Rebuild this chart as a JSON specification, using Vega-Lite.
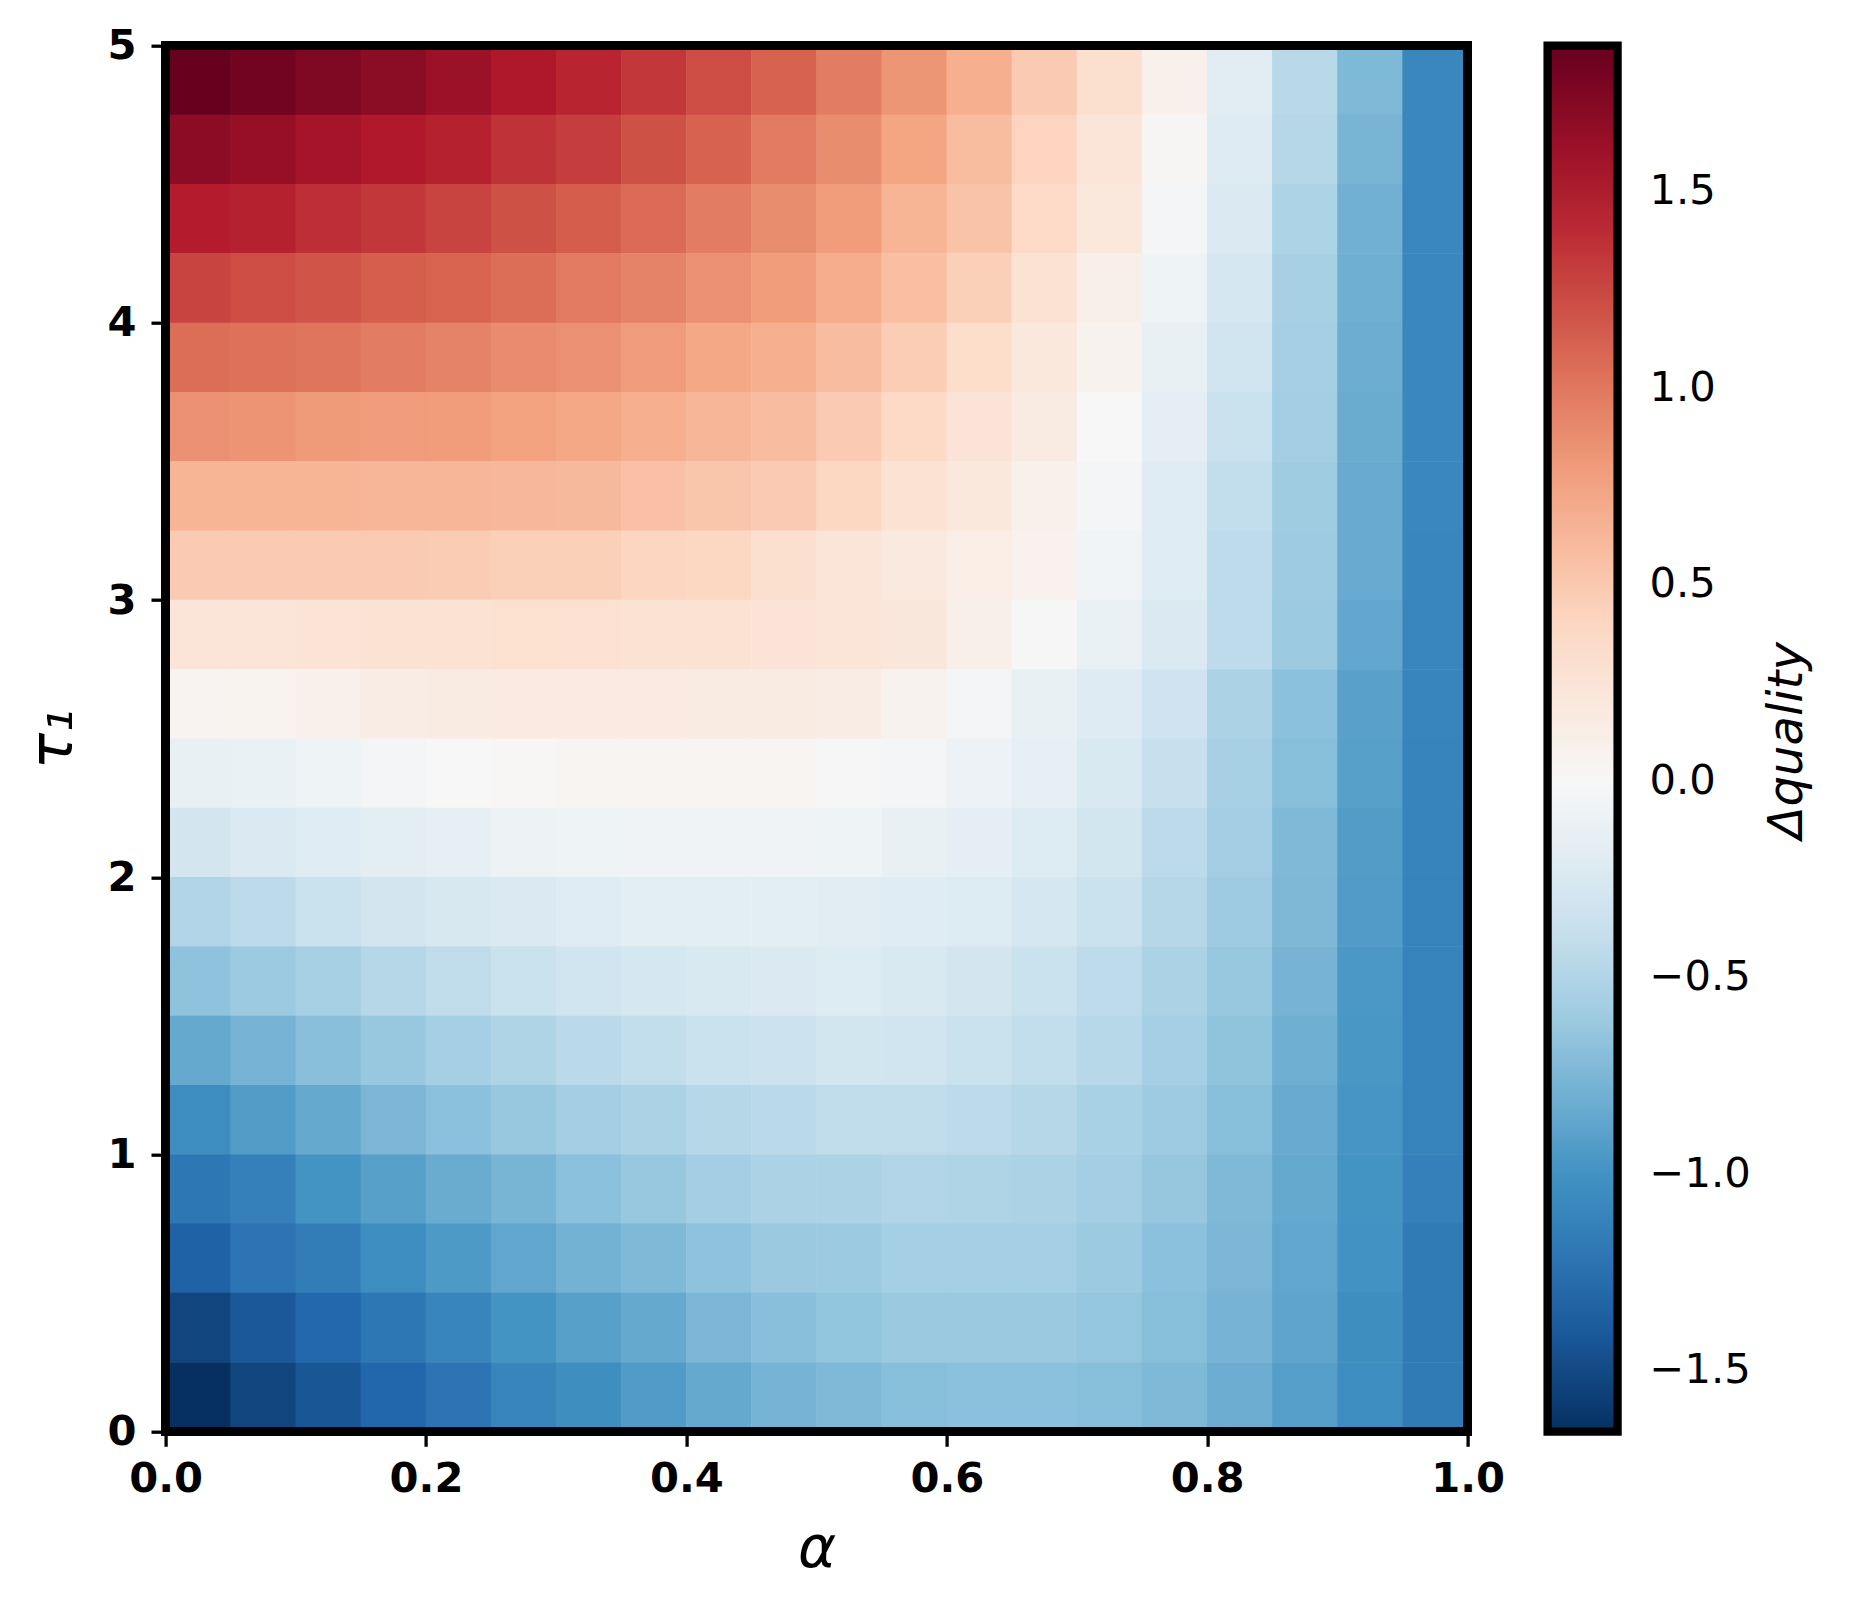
{
  "$schema": "https://vega.github.io/schema/vega-lite/v6.json",
  "width": 1302,
  "height": 1386,
  "autosize": {"type": "none"},
  "padding": {"left": 165.6, "top": 45.7, "right": 395.4, "bottom": 178.3},
  "background": "white",
  "config": {"view": {"stroke": null}},
  "data": {"values": [
{"alpha":0.025,"tau1":4.875,"dq":1.87},{"alpha":0.075,"tau1":4.875,"dq":1.81},{"alpha":0.125,"tau1":4.875,"dq":1.75},{"alpha":0.175,"tau1":4.875,"dq":1.69},{"alpha":0.225,"tau1":4.875,"dq":1.61},{"alpha":0.275,"tau1":4.875,"dq":1.51},{"alpha":0.325,"tau1":4.875,"dq":1.43},{"alpha":0.375,"tau1":4.875,"dq":1.33},{"alpha":0.425,"tau1":4.875,"dq":1.22},{"alpha":0.475,"tau1":4.875,"dq":1.11},{"alpha":0.525,"tau1":4.875,"dq":0.97},{"alpha":0.575,"tau1":4.875,"dq":0.83},{"alpha":0.625,"tau1":4.875,"dq":0.67},{"alpha":0.675,"tau1":4.875,"dq":0.49},{"alpha":0.725,"tau1":4.875,"dq":0.31},{"alpha":0.775,"tau1":4.875,"dq":0.09},{"alpha":0.825,"tau1":4.875,"dq":-0.18},{"alpha":0.875,"tau1":4.875,"dq":-0.46},{"alpha":0.925,"tau1":4.875,"dq":-0.74},{"alpha":0.975,"tau1":4.875,"dq":-1.08},
{"alpha":0.025,"tau1":4.625,"dq":1.68},{"alpha":0.075,"tau1":4.625,"dq":1.63},{"alpha":0.125,"tau1":4.625,"dq":1.56},{"alpha":0.175,"tau1":4.625,"dq":1.50},{"alpha":0.225,"tau1":4.625,"dq":1.45},{"alpha":0.275,"tau1":4.625,"dq":1.36},{"alpha":0.325,"tau1":4.625,"dq":1.30},{"alpha":0.375,"tau1":4.625,"dq":1.20},{"alpha":0.425,"tau1":4.625,"dq":1.11},{"alpha":0.475,"tau1":4.625,"dq":0.98},{"alpha":0.525,"tau1":4.625,"dq":0.88},{"alpha":0.575,"tau1":4.625,"dq":0.75},{"alpha":0.625,"tau1":4.625,"dq":0.59},{"alpha":0.675,"tau1":4.625,"dq":0.42},{"alpha":0.725,"tau1":4.625,"dq":0.24},{"alpha":0.775,"tau1":4.625,"dq":0.03},{"alpha":0.825,"tau1":4.625,"dq":-0.22},{"alpha":0.875,"tau1":4.625,"dq":-0.48},{"alpha":0.925,"tau1":4.625,"dq":-0.77},{"alpha":0.975,"tau1":4.625,"dq":-1.08},
{"alpha":0.025,"tau1":4.375,"dq":1.48},{"alpha":0.075,"tau1":4.375,"dq":1.45},{"alpha":0.125,"tau1":4.375,"dq":1.38},{"alpha":0.175,"tau1":4.375,"dq":1.33},{"alpha":0.225,"tau1":4.375,"dq":1.27},{"alpha":0.275,"tau1":4.375,"dq":1.20},{"alpha":0.325,"tau1":4.375,"dq":1.14},{"alpha":0.375,"tau1":4.375,"dq":1.06},{"alpha":0.425,"tau1":4.375,"dq":0.97},{"alpha":0.475,"tau1":4.375,"dq":0.88},{"alpha":0.525,"tau1":4.375,"dq":0.79},{"alpha":0.575,"tau1":4.375,"dq":0.64},{"alpha":0.625,"tau1":4.375,"dq":0.54},{"alpha":0.675,"tau1":4.375,"dq":0.37},{"alpha":0.725,"tau1":4.375,"dq":0.20},{"alpha":0.775,"tau1":4.375,"dq":-0.03},{"alpha":0.825,"tau1":4.375,"dq":-0.25},{"alpha":0.875,"tau1":4.375,"dq":-0.52},{"alpha":0.925,"tau1":4.375,"dq":-0.80},{"alpha":0.975,"tau1":4.375,"dq":-1.08},
{"alpha":0.025,"tau1":4.125,"dq":1.27},{"alpha":0.075,"tau1":4.125,"dq":1.22},{"alpha":0.125,"tau1":4.125,"dq":1.18},{"alpha":0.175,"tau1":4.125,"dq":1.13},{"alpha":0.225,"tau1":4.125,"dq":1.10},{"alpha":0.275,"tau1":4.125,"dq":1.05},{"alpha":0.325,"tau1":4.125,"dq":0.98},{"alpha":0.375,"tau1":4.125,"dq":0.93},{"alpha":0.425,"tau1":4.125,"dq":0.86},{"alpha":0.475,"tau1":4.125,"dq":0.79},{"alpha":0.525,"tau1":4.125,"dq":0.69},{"alpha":0.575,"tau1":4.125,"dq":0.57},{"alpha":0.625,"tau1":4.125,"dq":0.45},{"alpha":0.675,"tau1":4.125,"dq":0.27},{"alpha":0.725,"tau1":4.125,"dq":0.11},{"alpha":0.775,"tau1":4.125,"dq":-0.08},{"alpha":0.825,"tau1":4.125,"dq":-0.30},{"alpha":0.875,"tau1":4.125,"dq":-0.55},{"alpha":0.925,"tau1":4.125,"dq":-0.81},{"alpha":0.975,"tau1":4.125,"dq":-1.08},
{"alpha":0.025,"tau1":3.875,"dq":1.05},{"alpha":0.075,"tau1":3.875,"dq":1.03},{"alpha":0.125,"tau1":3.875,"dq":1.01},{"alpha":0.175,"tau1":3.875,"dq":0.97},{"alpha":0.225,"tau1":3.875,"dq":0.93},{"alpha":0.275,"tau1":3.875,"dq":0.89},{"alpha":0.325,"tau1":3.875,"dq":0.86},{"alpha":0.375,"tau1":3.875,"dq":0.80},{"alpha":0.425,"tau1":3.875,"dq":0.73},{"alpha":0.475,"tau1":3.875,"dq":0.67},{"alpha":0.525,"tau1":3.875,"dq":0.58},{"alpha":0.575,"tau1":3.875,"dq":0.47},{"alpha":0.625,"tau1":3.875,"dq":0.34},{"alpha":0.675,"tau1":3.875,"dq":0.20},{"alpha":0.725,"tau1":3.875,"dq":0.07},{"alpha":0.775,"tau1":3.875,"dq":-0.13},{"alpha":0.825,"tau1":3.875,"dq":-0.33},{"alpha":0.875,"tau1":3.875,"dq":-0.56},{"alpha":0.925,"tau1":3.875,"dq":-0.82},{"alpha":0.975,"tau1":3.875,"dq":-1.08},
{"alpha":0.025,"tau1":3.625,"dq":0.86},{"alpha":0.075,"tau1":3.625,"dq":0.84},{"alpha":0.125,"tau1":3.625,"dq":0.81},{"alpha":0.175,"tau1":3.625,"dq":0.80},{"alpha":0.225,"tau1":3.625,"dq":0.79},{"alpha":0.275,"tau1":3.625,"dq":0.76},{"alpha":0.325,"tau1":3.625,"dq":0.73},{"alpha":0.375,"tau1":3.625,"dq":0.68},{"alpha":0.425,"tau1":3.625,"dq":0.63},{"alpha":0.475,"tau1":3.625,"dq":0.58},{"alpha":0.525,"tau1":3.625,"dq":0.49},{"alpha":0.575,"tau1":3.625,"dq":0.38},{"alpha":0.625,"tau1":3.625,"dq":0.25},{"alpha":0.675,"tau1":3.625,"dq":0.16},{"alpha":0.725,"tau1":3.625,"dq":0.00},{"alpha":0.775,"tau1":3.625,"dq":-0.16},{"alpha":0.825,"tau1":3.625,"dq":-0.37},{"alpha":0.875,"tau1":3.625,"dq":-0.58},{"alpha":0.925,"tau1":3.625,"dq":-0.83},{"alpha":0.975,"tau1":3.625,"dq":-1.08},
{"alpha":0.025,"tau1":3.375,"dq":0.64},{"alpha":0.075,"tau1":3.375,"dq":0.64},{"alpha":0.125,"tau1":3.375,"dq":0.64},{"alpha":0.175,"tau1":3.375,"dq":0.63},{"alpha":0.225,"tau1":3.375,"dq":0.63},{"alpha":0.275,"tau1":3.375,"dq":0.62},{"alpha":0.325,"tau1":3.375,"dq":0.61},{"alpha":0.375,"tau1":3.375,"dq":0.56},{"alpha":0.425,"tau1":3.375,"dq":0.52},{"alpha":0.475,"tau1":3.375,"dq":0.49},{"alpha":0.525,"tau1":3.375,"dq":0.40},{"alpha":0.575,"tau1":3.375,"dq":0.28},{"alpha":0.625,"tau1":3.375,"dq":0.20},{"alpha":0.675,"tau1":3.375,"dq":0.09},{"alpha":0.725,"tau1":3.375,"dq":-0.03},{"alpha":0.775,"tau1":3.375,"dq":-0.21},{"alpha":0.825,"tau1":3.375,"dq":-0.41},{"alpha":0.875,"tau1":3.375,"dq":-0.59},{"alpha":0.925,"tau1":3.375,"dq":-0.84},{"alpha":0.975,"tau1":3.375,"dq":-1.08},
{"alpha":0.025,"tau1":3.125,"dq":0.49},{"alpha":0.075,"tau1":3.125,"dq":0.49},{"alpha":0.125,"tau1":3.125,"dq":0.49},{"alpha":0.175,"tau1":3.125,"dq":0.49},{"alpha":0.225,"tau1":3.125,"dq":0.48},{"alpha":0.275,"tau1":3.125,"dq":0.45},{"alpha":0.325,"tau1":3.125,"dq":0.45},{"alpha":0.375,"tau1":3.125,"dq":0.41},{"alpha":0.425,"tau1":3.125,"dq":0.40},{"alpha":0.475,"tau1":3.125,"dq":0.31},{"alpha":0.525,"tau1":3.125,"dq":0.24},{"alpha":0.575,"tau1":3.125,"dq":0.19},{"alpha":0.625,"tau1":3.125,"dq":0.14},{"alpha":0.675,"tau1":3.125,"dq":0.08},{"alpha":0.725,"tau1":3.125,"dq":-0.05},{"alpha":0.775,"tau1":3.125,"dq":-0.21},{"alpha":0.825,"tau1":3.125,"dq":-0.43},{"alpha":0.875,"tau1":3.125,"dq":-0.60},{"alpha":0.925,"tau1":3.125,"dq":-0.84},{"alpha":0.975,"tau1":3.125,"dq":-1.09},
{"alpha":0.025,"tau1":2.875,"dq":0.24},{"alpha":0.075,"tau1":2.875,"dq":0.24},{"alpha":0.125,"tau1":2.875,"dq":0.26},{"alpha":0.175,"tau1":2.875,"dq":0.27},{"alpha":0.225,"tau1":2.875,"dq":0.28},{"alpha":0.275,"tau1":2.875,"dq":0.30},{"alpha":0.325,"tau1":2.875,"dq":0.29},{"alpha":0.375,"tau1":2.875,"dq":0.27},{"alpha":0.425,"tau1":2.875,"dq":0.27},{"alpha":0.475,"tau1":2.875,"dq":0.25},{"alpha":0.525,"tau1":2.875,"dq":0.24},{"alpha":0.575,"tau1":2.875,"dq":0.21},{"alpha":0.625,"tau1":2.875,"dq":0.11},{"alpha":0.675,"tau1":2.875,"dq":-0.01},{"alpha":0.725,"tau1":2.875,"dq":-0.11},{"alpha":0.775,"tau1":2.875,"dq":-0.25},{"alpha":0.825,"tau1":2.875,"dq":-0.43},{"alpha":0.875,"tau1":2.875,"dq":-0.61},{"alpha":0.925,"tau1":2.875,"dq":-0.86},{"alpha":0.975,"tau1":2.875,"dq":-1.09},
{"alpha":0.025,"tau1":2.625,"dq":0.05},{"alpha":0.075,"tau1":2.625,"dq":0.06},{"alpha":0.125,"tau1":2.625,"dq":0.09},{"alpha":0.175,"tau1":2.625,"dq":0.15},{"alpha":0.225,"tau1":2.625,"dq":0.16},{"alpha":0.275,"tau1":2.625,"dq":0.17},{"alpha":0.325,"tau1":2.625,"dq":0.17},{"alpha":0.375,"tau1":2.625,"dq":0.17},{"alpha":0.425,"tau1":2.625,"dq":0.16},{"alpha":0.475,"tau1":2.625,"dq":0.16},{"alpha":0.525,"tau1":2.625,"dq":0.15},{"alpha":0.575,"tau1":2.625,"dq":0.07},{"alpha":0.625,"tau1":2.625,"dq":-0.03},{"alpha":0.675,"tau1":2.625,"dq":-0.13},{"alpha":0.725,"tau1":2.625,"dq":-0.22},{"alpha":0.775,"tau1":2.625,"dq":-0.34},{"alpha":0.825,"tau1":2.625,"dq":-0.53},{"alpha":0.875,"tau1":2.625,"dq":-0.69},{"alpha":0.925,"tau1":2.625,"dq":-0.90},{"alpha":0.975,"tau1":2.625,"dq":-1.10},
{"alpha":0.025,"tau1":2.375,"dq":-0.13},{"alpha":0.075,"tau1":2.375,"dq":-0.11},{"alpha":0.125,"tau1":2.375,"dq":-0.08},{"alpha":0.175,"tau1":2.375,"dq":-0.03},{"alpha":0.225,"tau1":2.375,"dq":0.00},{"alpha":0.275,"tau1":2.375,"dq":0.02},{"alpha":0.325,"tau1":2.375,"dq":0.04},{"alpha":0.375,"tau1":2.375,"dq":0.04},{"alpha":0.425,"tau1":2.375,"dq":0.04},{"alpha":0.475,"tau1":2.375,"dq":0.04},{"alpha":0.525,"tau1":2.375,"dq":-0.01},{"alpha":0.575,"tau1":2.375,"dq":-0.03},{"alpha":0.625,"tau1":2.375,"dq":-0.10},{"alpha":0.675,"tau1":2.375,"dq":-0.15},{"alpha":0.725,"tau1":2.375,"dq":-0.26},{"alpha":0.775,"tau1":2.375,"dq":-0.38},{"alpha":0.825,"tau1":2.375,"dq":-0.55},{"alpha":0.875,"tau1":2.375,"dq":-0.71},{"alpha":0.925,"tau1":2.375,"dq":-0.91},{"alpha":0.975,"tau1":2.375,"dq":-1.11},
{"alpha":0.025,"tau1":2.125,"dq":-0.31},{"alpha":0.075,"tau1":2.125,"dq":-0.25},{"alpha":0.125,"tau1":2.125,"dq":-0.21},{"alpha":0.175,"tau1":2.125,"dq":-0.17},{"alpha":0.225,"tau1":2.125,"dq":-0.15},{"alpha":0.275,"tau1":2.125,"dq":-0.09},{"alpha":0.325,"tau1":2.125,"dq":-0.08},{"alpha":0.375,"tau1":2.125,"dq":-0.07},{"alpha":0.425,"tau1":2.125,"dq":-0.07},{"alpha":0.475,"tau1":2.125,"dq":-0.07},{"alpha":0.525,"tau1":2.125,"dq":-0.08},{"alpha":0.575,"tau1":2.125,"dq":-0.12},{"alpha":0.625,"tau1":2.125,"dq":-0.16},{"alpha":0.675,"tau1":2.125,"dq":-0.23},{"alpha":0.725,"tau1":2.125,"dq":-0.32},{"alpha":0.775,"tau1":2.125,"dq":-0.44},{"alpha":0.825,"tau1":2.125,"dq":-0.58},{"alpha":0.875,"tau1":2.125,"dq":-0.74},{"alpha":0.925,"tau1":2.125,"dq":-0.93},{"alpha":0.975,"tau1":2.125,"dq":-1.11},
{"alpha":0.025,"tau1":1.875,"dq":-0.50},{"alpha":0.075,"tau1":1.875,"dq":-0.44},{"alpha":0.125,"tau1":1.875,"dq":-0.37},{"alpha":0.175,"tau1":1.875,"dq":-0.31},{"alpha":0.225,"tau1":1.875,"dq":-0.28},{"alpha":0.275,"tau1":1.875,"dq":-0.25},{"alpha":0.325,"tau1":1.875,"dq":-0.21},{"alpha":0.375,"tau1":1.875,"dq":-0.17},{"alpha":0.425,"tau1":1.875,"dq":-0.17},{"alpha":0.475,"tau1":1.875,"dq":-0.17},{"alpha":0.525,"tau1":1.875,"dq":-0.18},{"alpha":0.575,"tau1":1.875,"dq":-0.21},{"alpha":0.625,"tau1":1.875,"dq":-0.23},{"alpha":0.675,"tau1":1.875,"dq":-0.30},{"alpha":0.725,"tau1":1.875,"dq":-0.37},{"alpha":0.775,"tau1":1.875,"dq":-0.48},{"alpha":0.825,"tau1":1.875,"dq":-0.60},{"alpha":0.875,"tau1":1.875,"dq":-0.75},{"alpha":0.925,"tau1":1.875,"dq":-0.94},{"alpha":0.975,"tau1":1.875,"dq":-1.12},
{"alpha":0.025,"tau1":1.625,"dq":-0.68},{"alpha":0.075,"tau1":1.625,"dq":-0.61},{"alpha":0.125,"tau1":1.625,"dq":-0.55},{"alpha":0.175,"tau1":1.625,"dq":-0.48},{"alpha":0.225,"tau1":1.625,"dq":-0.42},{"alpha":0.275,"tau1":1.625,"dq":-0.37},{"alpha":0.325,"tau1":1.625,"dq":-0.33},{"alpha":0.375,"tau1":1.625,"dq":-0.30},{"alpha":0.425,"tau1":1.625,"dq":-0.26},{"alpha":0.475,"tau1":1.625,"dq":-0.24},{"alpha":0.525,"tau1":1.625,"dq":-0.23},{"alpha":0.575,"tau1":1.625,"dq":-0.26},{"alpha":0.625,"tau1":1.625,"dq":-0.31},{"alpha":0.675,"tau1":1.625,"dq":-0.37},{"alpha":0.725,"tau1":1.625,"dq":-0.43},{"alpha":0.775,"tau1":1.625,"dq":-0.53},{"alpha":0.825,"tau1":1.625,"dq":-0.63},{"alpha":0.875,"tau1":1.625,"dq":-0.78},{"alpha":0.925,"tau1":1.625,"dq":-0.96},{"alpha":0.975,"tau1":1.625,"dq":-1.12},
{"alpha":0.025,"tau1":1.375,"dq":-0.85},{"alpha":0.075,"tau1":1.375,"dq":-0.78},{"alpha":0.125,"tau1":1.375,"dq":-0.70},{"alpha":0.175,"tau1":1.375,"dq":-0.63},{"alpha":0.225,"tau1":1.375,"dq":-0.56},{"alpha":0.275,"tau1":1.375,"dq":-0.51},{"alpha":0.325,"tau1":1.375,"dq":-0.45},{"alpha":0.375,"tau1":1.375,"dq":-0.41},{"alpha":0.425,"tau1":1.375,"dq":-0.37},{"alpha":0.475,"tau1":1.375,"dq":-0.36},{"alpha":0.525,"tau1":1.375,"dq":-0.32},{"alpha":0.575,"tau1":1.375,"dq":-0.33},{"alpha":0.625,"tau1":1.375,"dq":-0.37},{"alpha":0.675,"tau1":1.375,"dq":-0.41},{"alpha":0.725,"tau1":1.375,"dq":-0.47},{"alpha":0.775,"tau1":1.375,"dq":-0.56},{"alpha":0.825,"tau1":1.375,"dq":-0.67},{"alpha":0.875,"tau1":1.375,"dq":-0.81},{"alpha":0.925,"tau1":1.375,"dq":-0.97},{"alpha":0.975,"tau1":1.375,"dq":-1.12},
{"alpha":0.025,"tau1":1.125,"dq":-1.04},{"alpha":0.075,"tau1":1.125,"dq":-0.93},{"alpha":0.125,"tau1":1.125,"dq":-0.85},{"alpha":0.175,"tau1":1.125,"dq":-0.76},{"alpha":0.225,"tau1":1.125,"dq":-0.69},{"alpha":0.275,"tau1":1.125,"dq":-0.63},{"alpha":0.325,"tau1":1.125,"dq":-0.57},{"alpha":0.375,"tau1":1.125,"dq":-0.53},{"alpha":0.425,"tau1":1.125,"dq":-0.48},{"alpha":0.475,"tau1":1.125,"dq":-0.45},{"alpha":0.525,"tau1":1.125,"dq":-0.42},{"alpha":0.575,"tau1":1.125,"dq":-0.42},{"alpha":0.625,"tau1":1.125,"dq":-0.44},{"alpha":0.675,"tau1":1.125,"dq":-0.48},{"alpha":0.725,"tau1":1.125,"dq":-0.54},{"alpha":0.775,"tau1":1.125,"dq":-0.60},{"alpha":0.825,"tau1":1.125,"dq":-0.71},{"alpha":0.875,"tau1":1.125,"dq":-0.84},{"alpha":0.925,"tau1":1.125,"dq":-0.98},{"alpha":0.975,"tau1":1.125,"dq":-1.12},
{"alpha":0.025,"tau1":0.875,"dq":-1.20},{"alpha":0.075,"tau1":0.875,"dq":-1.13},{"alpha":0.125,"tau1":0.875,"dq":-0.99},{"alpha":0.175,"tau1":0.875,"dq":-0.91},{"alpha":0.225,"tau1":0.875,"dq":-0.83},{"alpha":0.275,"tau1":0.875,"dq":-0.77},{"alpha":0.325,"tau1":0.875,"dq":-0.69},{"alpha":0.375,"tau1":0.875,"dq":-0.63},{"alpha":0.425,"tau1":0.875,"dq":-0.57},{"alpha":0.475,"tau1":0.875,"dq":-0.53},{"alpha":0.525,"tau1":0.875,"dq":-0.53},{"alpha":0.575,"tau1":0.875,"dq":-0.50},{"alpha":0.625,"tau1":0.875,"dq":-0.51},{"alpha":0.675,"tau1":0.875,"dq":-0.53},{"alpha":0.725,"tau1":0.875,"dq":-0.57},{"alpha":0.775,"tau1":0.875,"dq":-0.64},{"alpha":0.825,"tau1":0.875,"dq":-0.74},{"alpha":0.875,"tau1":0.875,"dq":-0.85},{"alpha":0.925,"tau1":0.875,"dq":-0.99},{"alpha":0.975,"tau1":0.875,"dq":-1.13},
{"alpha":0.025,"tau1":0.625,"dq":-1.35},{"alpha":0.075,"tau1":0.625,"dq":-1.22},{"alpha":0.125,"tau1":0.625,"dq":-1.16},{"alpha":0.175,"tau1":0.625,"dq":-1.04},{"alpha":0.225,"tau1":0.625,"dq":-0.95},{"alpha":0.275,"tau1":0.625,"dq":-0.87},{"alpha":0.325,"tau1":0.625,"dq":-0.79},{"alpha":0.375,"tau1":0.625,"dq":-0.74},{"alpha":0.425,"tau1":0.625,"dq":-0.68},{"alpha":0.475,"tau1":0.625,"dq":-0.62},{"alpha":0.525,"tau1":0.625,"dq":-0.61},{"alpha":0.575,"tau1":0.625,"dq":-0.56},{"alpha":0.625,"tau1":0.625,"dq":-0.56},{"alpha":0.675,"tau1":0.625,"dq":-0.56},{"alpha":0.725,"tau1":0.625,"dq":-0.61},{"alpha":0.775,"tau1":0.625,"dq":-0.69},{"alpha":0.825,"tau1":0.625,"dq":-0.76},{"alpha":0.875,"tau1":0.625,"dq":-0.87},{"alpha":0.925,"tau1":0.625,"dq":-1.00},{"alpha":0.975,"tau1":0.625,"dq":-1.18},
{"alpha":0.025,"tau1":0.375,"dq":-1.53},{"alpha":0.075,"tau1":0.375,"dq":-1.41},{"alpha":0.125,"tau1":0.375,"dq":-1.31},{"alpha":0.175,"tau1":0.375,"dq":-1.20},{"alpha":0.225,"tau1":0.375,"dq":-1.10},{"alpha":0.275,"tau1":0.375,"dq":-0.99},{"alpha":0.325,"tau1":0.375,"dq":-0.91},{"alpha":0.375,"tau1":0.375,"dq":-0.85},{"alpha":0.425,"tau1":0.375,"dq":-0.76},{"alpha":0.475,"tau1":0.375,"dq":-0.70},{"alpha":0.525,"tau1":0.375,"dq":-0.66},{"alpha":0.575,"tau1":0.375,"dq":-0.62},{"alpha":0.625,"tau1":0.375,"dq":-0.62},{"alpha":0.675,"tau1":0.375,"dq":-0.62},{"alpha":0.725,"tau1":0.375,"dq":-0.65},{"alpha":0.775,"tau1":0.375,"dq":-0.71},{"alpha":0.825,"tau1":0.375,"dq":-0.78},{"alpha":0.875,"tau1":0.375,"dq":-0.88},{"alpha":0.925,"tau1":0.375,"dq":-1.03},{"alpha":0.975,"tau1":0.375,"dq":-1.18},
{"alpha":0.025,"tau1":0.125,"dq":-1.656},{"alpha":0.075,"tau1":0.125,"dq":-1.53},{"alpha":0.125,"tau1":0.125,"dq":-1.42},{"alpha":0.175,"tau1":0.125,"dq":-1.32},{"alpha":0.225,"tau1":0.125,"dq":-1.22},{"alpha":0.275,"tau1":0.125,"dq":-1.10},{"alpha":0.325,"tau1":0.125,"dq":-1.03},{"alpha":0.375,"tau1":0.125,"dq":-0.94},{"alpha":0.425,"tau1":0.125,"dq":-0.85},{"alpha":0.475,"tau1":0.125,"dq":-0.78},{"alpha":0.525,"tau1":0.125,"dq":-0.74},{"alpha":0.575,"tau1":0.125,"dq":-0.71},{"alpha":0.625,"tau1":0.125,"dq":-0.69},{"alpha":0.675,"tau1":0.125,"dq":-0.69},{"alpha":0.725,"tau1":0.125,"dq":-0.71},{"alpha":0.775,"tau1":0.125,"dq":-0.74},{"alpha":0.825,"tau1":0.125,"dq":-0.82},{"alpha":0.875,"tau1":0.125,"dq":-0.92},{"alpha":0.925,"tau1":0.125,"dq":-1.04},{"alpha":0.975,"tau1":0.125,"dq":-1.18}
  ]},
  "layer": [
    {
      "mark": {"type": "rect", "width": 65.6, "height": 69.8},
      "encoding": {
        "x": {
          "field": "alpha", "type": "quantitative",
          "scale": {"domain": [0, 1], "nice": false, "zero": false},
          "axis": {
            "title": "α", "values": [0, 0.2, 0.4, 0.6, 0.8, 1], "format": ".1f",
            "domain": false, "grid": false,
            "tickSize": 14.6, "tickWidth": 3.3, "tickColor": "black",
            "labelFont": "DejaVu Sans", "labelFontSize": 41.7, "labelFontWeight": "bold", "labelColor": "black",
            "labelPadding": 12, "labelFlush": false, "labelOverlap": false,
            "titleFont": "DejaVu Sans", "titleFontSize": 58, "titleFontStyle": "italic", "titleFontWeight": "normal",
            "titleColor": "black", "titlePadding": 20
          }
        },
        "y": {
          "field": "tau1", "type": "quantitative",
          "scale": {"domain": [0, 5], "nice": false, "zero": false},
          "axis": {
            "title": "τ₁", "values": [0, 1, 2, 3, 4, 5], "format": "d",
            "domain": false, "grid": false,
            "tickSize": 14.6, "tickWidth": 3.3, "tickColor": "black",
            "labelFont": "DejaVu Sans", "labelFontSize": 41.7, "labelFontWeight": "bold", "labelColor": "black",
            "labelPadding": 15, "labelFlush": false, "labelOverlap": false,
            "titleFont": "DejaVu Sans", "titleFontSize": 60, "titleFontStyle": "italic", "titleFontWeight": "normal",
            "titleColor": "black", "titlePadding": 22
          }
        },
        "color": {
          "field": "dq", "type": "quantitative",
          "scale": {
            "domain": [-1.656, 1.87], "domainMid": 0, "interpolate": "rgb",
            "range": ["#053061", "#2166ac", "#4393c3", "#92c5de", "#d1e5f0", "#f7f7f7", "#fddbc7", "#f4a582", "#d6604d", "#b2182b", "#67001f"]
          },
          "legend": {
            "orient": "right", "offset": 80.3, "padding": 0, "direction": "vertical",
            "gradientLength": 1386, "gradientThickness": 70,
            "gradientStrokeColor": "black", "gradientStrokeWidth": 8.3,
            "values": [-1.5, -1, -0.5, 0, 0.5, 1, 1.5], "format": ".1f",
            "labelFont": "DejaVu Sans", "labelFontSize": 41.7, "labelColor": "black",
            "labelOffset": 32, "labelOverlap": false,
            "title": "Δquality", "titleOrient": "right", "titleLimit": 1000,
            "titleFont": "DejaVu Sans", "titleFontSize": 48, "titleFontWeight": "normal", "titleFontStyle": "italic",
            "titleColor": "black", "titlePadding": 61, "titleAnchor": "middle",
            "encode": {"title": {"update": {"angle": {"value": 270}}}}
          }
        }
      }
    },
    {
      "mark": {"type": "rect", "filled": false, "stroke": "black", "strokeWidth": 8.3},
      "encoding": {
        "x": {"datum": 0, "type": "quantitative"},
        "x2": {"datum": 1},
        "y": {"datum": 0, "type": "quantitative"},
        "y2": {"datum": 5}
      }
    }
  ]
}
